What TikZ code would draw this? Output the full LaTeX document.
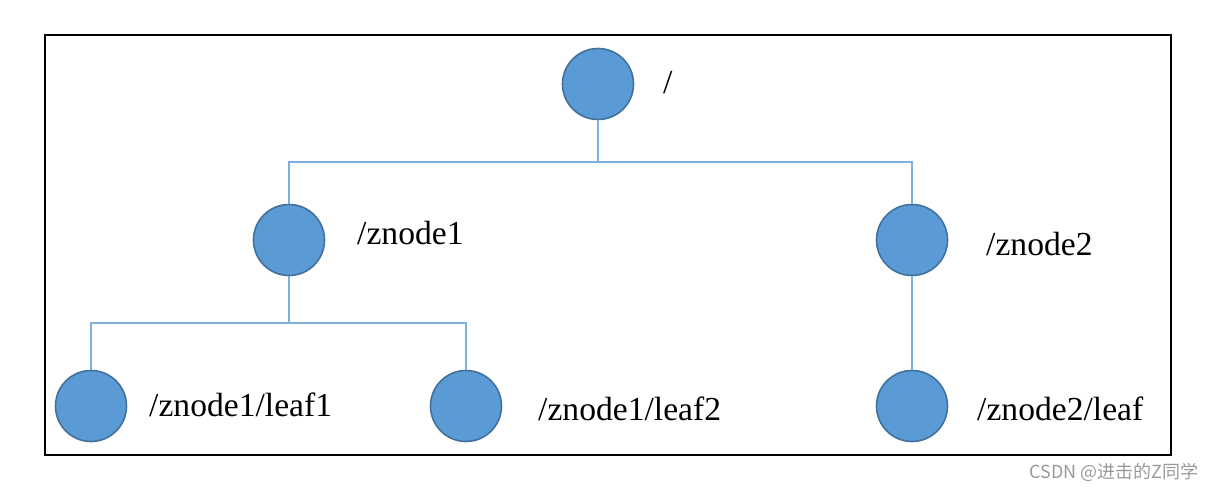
\documentclass[tikz,border=0pt]{standalone}
\usepackage{fontspec}
\setmainfont{Liberation Serif}
\newfontfamily\cjk{Noto Sans CJK SC}
\definecolor{nodefill}{HTML}{5B9BD5}
\definecolor{nodeedge}{HTML}{41719C}
\definecolor{linkcol}{HTML}{7EB0DF}
\begin{document}
\begin{tikzpicture}[x=1pt,y=-1pt,
  tnode/.style={circle,minimum size=71pt,inner sep=0pt,fill=nodefill,draw=nodeedge,line width=1.6pt},
  lbl/.style={anchor=base west,inner sep=0pt,font=\fontsize{33.6}{40}\selectfont},
  link/.style={draw=linkcol,line width=1.3pt}]
\useasboundingbox (0,0) rectangle (1214,492);
\node[draw=black,line width=2pt,minimum width=1126pt,minimum height=420pt,inner sep=0pt,anchor=north west] (frame) at (44,34) {};
\node[tnode] (root) at (598,84) {};
\node[tnode] (n1) at (289,240) {};
\node[tnode] (n2) at (912,240) {};
\node[tnode] (l1) at (91,406) {};
\node[tnode] (l2) at (466,406) {};
\node[tnode] (l3) at (912,406) {};
\coordinate (j1) at (598,162);
\coordinate (j2) at (289,323);
\draw[link] (root.south) -- (j1);
\draw[link] (j1) -| (n1.north);
\draw[link] (j1) -| (n2.north);
\draw[link] (n1.south) -- (j2);
\draw[link] (j2) -| (l1.north);
\draw[link] (j2) -| (l2.north);
\draw[link] (n2.south) -- (l3.north);
\node[lbl] (troot) at (663,94) {/};
\node[lbl] (tn1) at (357,244) {/znode1};
\node[lbl] (tn2) at (986,255) {/znode2};
\node[lbl] (tl1) at (149,416) {/znode1/leaf1};
\node[lbl] (tl2) at (538,420) {/znode1/leaf2};
\node[lbl] (tl3) at (977,420) {/znode2/leaf};
\node[anchor=base east,inner sep=0pt,text=black!40,font=\cjk\fontsize{18}{22}\selectfont] (wm) at (1199,478) {CSDN @进击的Z同学};
\end{tikzpicture}
\end{document}
